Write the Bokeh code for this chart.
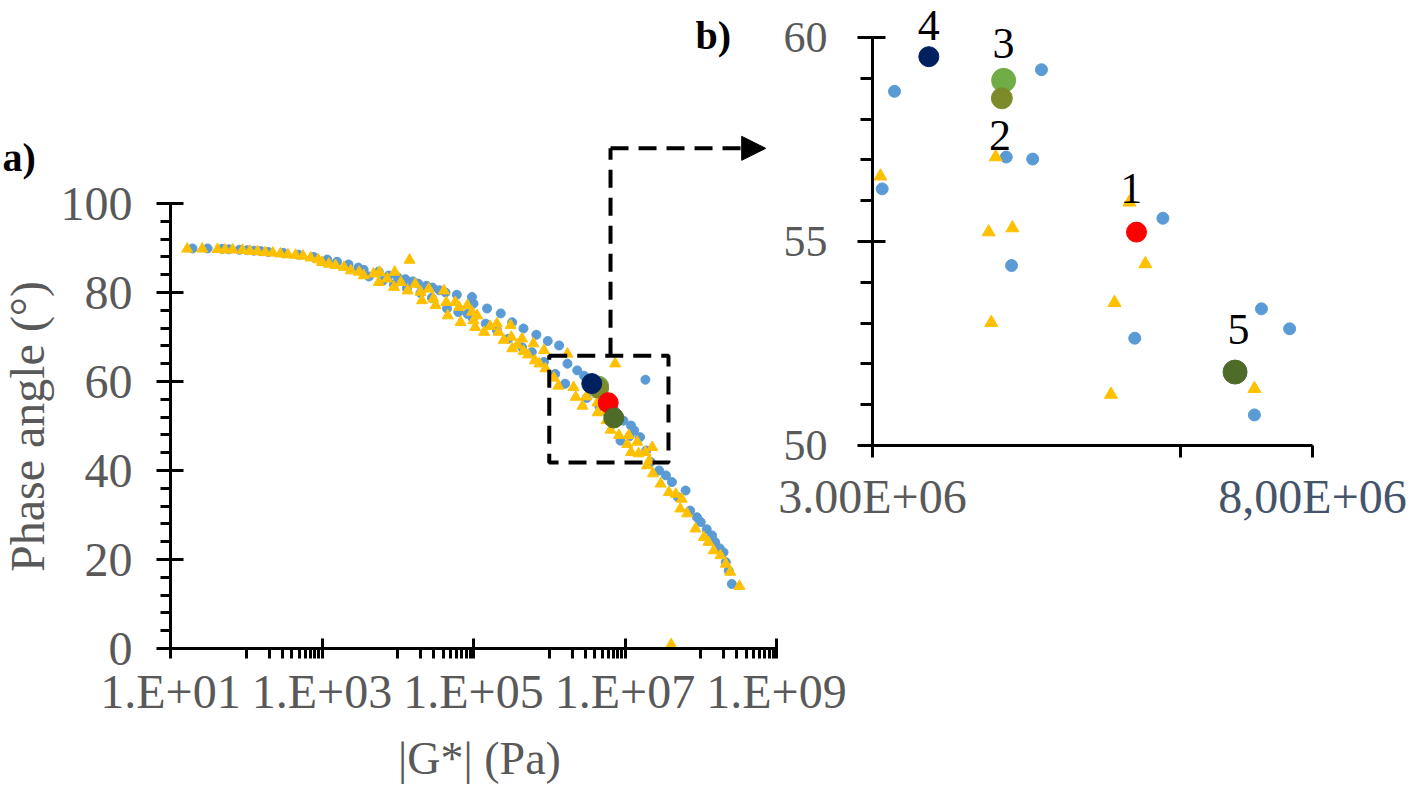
from bokeh.plotting import figure
from bokeh.models import (Range1d, FixedTicker, Label, BoxAnnotation, Arrow, NormalHead)
from bokeh.layouts import row, column
from bokeh.core.properties import value
from bokeh.embed import file_html
from bokeh.resources import INLINE

# ---------------- data ----------------
blue_G = [1.95e1, 3.09e1, 4.79e1, 5.89e1, 8.13e1, 1.02e2, 1.26e2, 1.55e2, 1.95e2, 3.09e2,
          4.90e2, 7.76e2, 1.17e3, 1.58e3, 2.24e3, 3.02e3, 3.55e3, 4.17e3, 5.62e3, 6.31e3,
          7.59e3, 8.91e3, 1.00e4, 1.26e4, 1.32e4, 1.58e4, 1.86e4, 2.00e4, 2.40e4, 2.82e4,
          2.88e4, 3.55e4, 4.27e4, 4.47e4, 6.03e4, 6.31e4, 8.32e4, 9.55e4, 9.80e4, 1.00e5,
          1.45e5, 1.51e5, 2.04e5, 2.29e5, 2.88e5, 3.24e5, 4.37e5, 4.57e5, 5.89e5, 6.76e5,
          8.51e5, 9.55e5, 1.20e6, 1.35e6, 1.62e6, 1.74e6, 2.34e6, 2.88e6, 3.11e6, 3.25e6,
          4.52e6, 4.58e6, 4.82e6, 4.92e6, 5.98e6, 6.30e6, 7.34e6, 7.42e6, 7.74e6, 8.71e6,
          9.55e6, 1.15e7, 1.20e7, 1.32e7, 1.58e7, 1.86e7, 1.91e7, 2.19e7, 2.82e7, 3.47e7,
          4.17e7, 5.01e7, 6.31e7, 7.24e7, 8.91e7, 1.00e8, 1.20e8, 1.41e8, 1.55e8, 1.78e8,
          2.00e8, 2.14e8, 2.34e8, 2.57e8]
blue_phase = [89.9, 89.9, 89.8, 89.7, 89.6, 89.5, 89.4, 89.3, 89.1, 88.9,
              88.5, 88.0, 87.4, 86.9, 86.3, 85.6, 85.1, 83.6, 84.7, 82.6,
              83.8, 81.8, 83.4, 83.0, 80.9, 82.5, 82.0, 79.9, 81.5, 78.8,
              81.1, 80.5, 80.0, 76.4, 79.5, 75.6, 75.2, 79.0, 74.2, 77.5,
              73.0, 76.4, 71.5, 75.3, 69.6, 73.3, 67.7, 71.9, 66.6, 70.5,
              64.4, 69.1, 61.7, 68.1, 59.5, 64.0, 62.5, 61.3, 56.29, 58.68,
              57.07, 54.41, 57.02, 59.21, 52.63, 55.57, 50.75, 53.35, 52.86, 46.7,
              51.2, 47.7, 50.1, 49.0, 47.5, 60.4, 44.5, 41.9, 40.0, 38.9,
              37.4, 34.0, 35.5, 31.0, 29.5, 28.4, 26.8, 25.4, 23.9, 22.5,
              21.6, 19.4, 17.5, 14.5]

yellow_G = [1.66e1, 2.63e1, 4.17e1, 5.25e1, 6.61e1, 8.91e1, 1.12e2, 1.41e2, 1.78e2, 2.24e2,
            2.82e2, 3.55e2, 4.47e2, 5.62e2, 7.08e2, 8.91e2, 1.00e3, 1.23e3, 1.51e3, 1.95e3,
            2.40e3, 3.09e3, 3.55e3, 4.79e3, 5.62e3, 5.75e3, 7.24e3, 8.91e3, 9.12e3, 1.10e4,
            1.35e4, 1.43e4, 1.70e4, 2.00e4, 2.09e4, 2.57e4, 2.95e4, 3.16e4, 4.07e4, 4.37e4,
            4.57e4, 5.75e4, 6.46e4, 6.76e4, 8.32e4, 9.55e4, 1.00e5, 1.05e5, 1.12e5, 1.38e5,
            1.66e5, 2.04e5, 2.14e5, 2.51e5, 3.09e5, 3.16e5, 3.24e5, 3.80e5, 4.37e5, 4.57e5,
            5.25e5, 6.17e5, 6.46e5, 7.41e5, 8.51e5, 8.91e5, 1.15e6, 1.32e6, 1.74e6, 2.09e6,
            2.24e6, 2.75e6, 3.09e6, 4.32e6, 4.35e6, 4.40e6, 4.59e6, 5.71e6, 5.75e6, 5.92e6,
            6.10e6, 6.46e6, 7.34e6, 7.41e6, 8.32e6, 1.07e7, 1.12e7, 1.20e7, 1.45e7, 1.51e7,
            1.86e7, 1.95e7, 2.09e7, 2.29e7, 2.34e7, 2.95e7, 3.80e7, 4.07e7, 4.68e7, 5.37e7,
            5.62e7, 6.61e7, 8.51e7, 1.10e8, 1.26e8, 1.48e8, 1.82e8, 2.14e8, 2.45e8, 3.24e8]
yellow_phase = [89.8, 89.8, 89.7, 89.6, 89.6, 89.5, 89.3, 89.2, 89.0, 88.9,
                88.7, 88.5, 88.4, 88.2, 87.8, 87.4, 86.8, 86.4, 86.1, 85.7,
                84.9, 84.6, 83.8, 84.2, 82.3, 84.6, 83.1, 81.2, 84.6, 82.3,
                80.4, 87.3, 81.9, 80.1, 78.2, 80.8, 78.6, 77.1, 80.4, 77.8,
                74.8, 77.8, 76.7, 73.3, 77.1, 75.6, 73.7, 72.2, 74.8, 71.1,
                72.4, 73.0, 71.1, 69.3, 72.6, 70.0, 67.4, 68.2, 69.6, 66.8,
                66.0, 68.5, 64.7, 64.0, 67.0, 62.9, 60.8, 59.0, 66.2, 58.7,
                56.5, 54.5, 56.6, 55.23, 53.01, 57.07, 55.33, 51.25, 53.50, 55.96,
                54.45, 49.1, 51.39, 64.0, 47.9, 45.9, 47.9, 44.1, 46.4, 43.8,
                44.1, 41.1, 42.2, 45.2, 39.3, 37.0, 35.1, 0.9, 34.7, 31.4,
                33.6, 30.3, 26.9, 25.0, 23.9, 22.0, 20.9, 19.0, 17.2, 14.0]

# highlighted samples 1..5
hl_names = ["1", "2", "3", "4", "5"]
hl_G = [6.00e6, 4.47e6, 4.49e6, 3.64e6, 7.12e6]
hl_phase = [55.23, 58.51, 58.95, 59.53, 51.80]
hl_colors = ["#FF0000", "#7E8B2A", "#70AD47", "#002060", "#4E6B28"]

x_ticks_a = [1e1, 1e3, 1e5, 1e7, 1e9]
x_tick_labels_a = ["1.E+01", "1.E+03", "1.E+05", "1.E+07", "1.E+09"]
y_ticks_a = [0, 20, 40, 60, 80, 100]
x_ticks_b = [3e6, 6.5e6, 8e6]
x_tick_labels_b = ["3.00E+06", "", ""]
y_ticks_b = [50, 55, 60]

# ---------------- layout constants (page pixels) ----------------
FONT = "Liberation Serif"
GRAY = "#595959"
BLUE = "#5B9BD5"
YELLOW = "#FFC000"
PAGE_W, PAGE_H = 1416, 790

A_W = 850
A_LEFT, A_RIGHT, A_Y0, A_Y100 = 170, 776, 648, 203
a_top = 100 * A_Y0 / (A_Y0 - A_Y100)

B_X0 = 760
B_LEFT, B_RIGHT, B_Y50, B_Y60 = 872, 1312, 445, 37
b_ppu = (B_Y50 - B_Y60) / 10.0
b_top = 50 + B_Y50 / b_ppu


def style_axis(ax, size):
    ax.axis_line_color = "black"
    ax.axis_line_width = 3
    ax.major_tick_line_color = "black"
    ax.major_tick_line_width = 3
    ax.minor_tick_line_color = "black"
    ax.minor_tick_line_width = 3
    ax.major_label_text_font = FONT
    ax.major_label_text_font_size = size
    ax.major_label_text_color = GRAY


# ---------------- panel a ----------------
pa = figure(frame_width=A_RIGHT - A_LEFT, frame_height=A_Y0, x_axis_type="log",
            x_range=Range1d(1e1, 1e9), y_range=Range1d(0, a_top),
            output_backend="svg", toolbar_location=None,
            min_border_left=A_LEFT, min_border_right=A_W - A_RIGHT,
            min_border_top=0, min_border_bottom=PAGE_H - A_Y0)
pa.outline_line_color = None
pa.xgrid.visible = False
pa.ygrid.visible = False

xa = pa.xaxis[0]
style_axis(xa, "48px")
xa.ticker = FixedTicker(ticks=x_ticks_a,
                        minor_ticks=[k * 10.0 ** e for e in (2, 4, 6, 8) for k in range(1, 10)])
xa.major_label_overrides = {float(t): l for t, l in zip(x_ticks_a, x_tick_labels_a)}
xa.bounds = (1e1, 1e9)
xa.major_tick_in = 10
xa.major_tick_out = 10
xa.minor_tick_in = 0
xa.minor_tick_out = 10
xa.major_label_standoff = 6

ya = pa.yaxis[0]
style_axis(ya, "48px")
ya.ticker = FixedTicker(ticks=y_ticks_a, minor_ticks=[v for v in range(4, 100, 4) if v % 20])
ya.bounds = (0, 100)
ya.major_tick_in = 13
ya.major_tick_out = 14
ya.minor_tick_in = 0
ya.minor_tick_out = 10
ya.major_label_standoff = 24

pa.scatter(blue_G, blue_phase, marker="circle", size=9, color=BLUE)
pa.scatter(yellow_G, yellow_phase, marker="triangle", size=11, color=YELLOW)
for i in [2, 1, 3, 0, 4]:
    pa.scatter([hl_G[i]], [hl_phase[i]], marker="circle", size=20, color=hl_colors[i])

# zoom box and arrow
pa.add_layout(BoxAnnotation(left=1.0e6, right=3.75e7, bottom=41.8, top=65.8,
                            fill_alpha=0, line_color="black", line_alpha=1.0,
                            line_width=4, line_dash="18 10"))
pa.add_layout(Arrow(x_start=6.44e6, y_start=65.8, x_end=6.44e6, y_end=112.4,
                    end=None, line_color="black", line_width=4, line_dash="18 10"))
pa.add_layout(Arrow(x_start=6.44e6, y_start=112.4, x_end=7.2e8, y_end=112.4,
                    end=NormalHead(size=24, fill_color="black", line_color="black"),
                    line_color="black", line_width=4, line_dash="18 10"))

# ---------------- panel b ----------------
pb = figure(frame_width=B_RIGHT - B_LEFT, frame_height=B_Y50,
            x_range=Range1d(3e6, 8e6), y_range=Range1d(50, b_top),
            output_backend="svg", toolbar_location=None,
            min_border_left=B_LEFT - B_X0, min_border_right=PAGE_W - B_RIGHT,
            min_border_top=0, min_border_bottom=100)
pb.margin = (0, 0, 0, -(A_W - B_X0))
pb.outline_line_color = None
pb.background_fill_alpha = 0
pb.border_fill_alpha = 0
pb.xgrid.visible = False
pb.ygrid.visible = False

xb = pb.xaxis[0]
style_axis(xb, "48px")
xb.ticker = FixedTicker(ticks=x_ticks_b, minor_ticks=[])
xb.major_label_overrides = {float(t): l for t, l in zip(x_ticks_b, x_tick_labels_b)}
xb.bounds = (3e6, 8e6)
xb.major_tick_in = 0
xb.major_tick_out = 12
xb.major_label_standoff = 12

yb = pb.yaxis[0]
style_axis(yb, "44px")
yb.ticker = FixedTicker(ticks=y_ticks_b, minor_ticks=list(range(51, 60)))
yb.bounds = (50, 60)
yb.major_tick_in = 13
yb.major_tick_out = 15
yb.minor_tick_in = 0
yb.minor_tick_out = 12
yb.major_label_standoff = 30

pb.scatter(blue_G, blue_phase, marker="circle", size=12, color=BLUE)
pb.scatter(yellow_G, yellow_phase, marker="triangle", size=13, color=YELLOW)
hl_sizes_b = [20, 21, 24, 20, 24]
for i in [2, 1, 3, 0, 4]:
    pb.scatter([hl_G[i]], [hl_phase[i]], marker="circle", size=hl_sizes_b[i], color=hl_colors[i])

label_x = [5.94e6, 4.45e6, 4.49e6, 3.64e6, 7.16e6]
label_y = [56.30, 57.60, 59.85, 60.30, 52.85]
pb.text(x=label_x, y=label_y, text=hl_names, text_font=value(FONT),
        text_font_size="44px", text_color="black", text_align="center",
        text_baseline="middle")

# ---------------- overlay for texts outside the frames (page pixel coords) ----------------
po = figure(frame_width=PAGE_W, frame_height=PAGE_H, x_range=Range1d(0, PAGE_W),
            y_range=Range1d(PAGE_H, 0), x_axis_location=None, y_axis_location=None,
            output_backend="svg", toolbar_location=None, min_border=0)
po.margin = (-PAGE_H, 0, 0, 0)
po.outline_line_color = None
po.background_fill_alpha = 0
po.border_fill_alpha = 0
po.xgrid.visible = False
po.ygrid.visible = False

po.add_layout(Label(x=2, y=157, text="a)", text_font=FONT, text_font_size="40px",
                    text_font_style="bold", text_color="black",
                    text_align="left", text_baseline="middle"))
po.add_layout(Label(x=695, y=35, text="b)", text_font=FONT, text_font_size="40px",
                    text_font_style="bold", text_color="black",
                    text_align="left", text_baseline="middle"))
po.add_layout(Label(x=27, y=426, text="Phase angle (°)", angle=1.5707963, text_font=FONT,
                    text_font_size="48px", text_color=GRAY,
                    text_align="center", text_baseline="middle"))
po.add_layout(Label(x=479, y=758, text="|G*| (Pa)", text_font=FONT, text_font_size="46px",
                    text_color=GRAY, text_align="center", text_baseline="middle"))
po.add_layout(Label(x=B_RIGHT, y=B_Y50 + 24, text="8,00E+06", text_font=FONT,
                    text_font_size="48px", text_color="#44546A",
                    text_align="center", text_baseline="top"))

layout = column(row(pa, pb), po)
open("out.html", "w").write(file_html(layout, INLINE))
